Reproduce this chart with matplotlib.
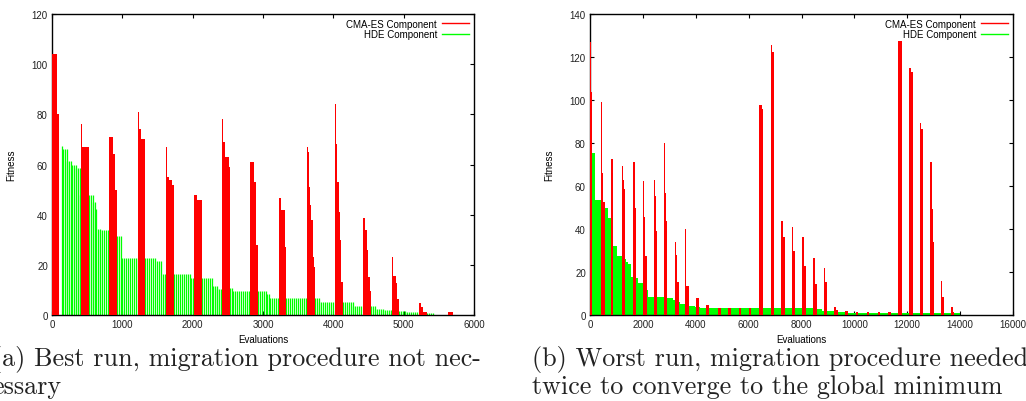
import numpy as np
import matplotlib.pyplot as plt
from matplotlib.lines import Line2D

# (start evaluation, end evaluation, fitness) steps
a_cma = [(0, 66, 104), (66, 104, 80),
         (412, 426, 76), (426, 526, 67),
         (815, 862, 71), (862, 900, 64), (900, 929, 50),
         (1218, 1237, 81), (1237, 1261, 74), (1261, 1327, 70),
         (1616, 1630, 67), (1630, 1668, 55), (1668, 1701, 54), (1701, 1730, 52),
         (2019, 2066, 48), (2066, 2128, 46),
         (2417, 2436, 78), (2436, 2455, 69), (2455, 2512, 63), (2512, 2531, 59),
         (2815, 2872, 61), (2872, 2896, 53), (2896, 2929, 28),
         (3223, 3256, 46.5), (3256, 3308, 42), (3308, 3332, 27),
         (3621, 3644, 67), (3644, 3658, 65), (3658, 3673, 51), (3673, 3687, 44),
         (3687, 3706, 38), (3706, 3720, 23), (3720, 3739, 19),
         (4023, 4038, 84), (4038, 4057, 68), (4057, 4076, 53), (4076, 4095, 41),
         (4095, 4113, 30), (4113, 4132, 13),
         (4426, 4450, 38.5), (4450, 4474, 34), (4474, 4497, 26), (4497, 4521, 15),
         (4521, 4535, 9.6),
         (4829, 4853, 23), (4853, 4891, 15.4), (4891, 4910, 12.6), (4910, 4933, 6.4),
         (5222, 5241, 4.8), (5241, 5270, 3.2), (5270, 5327, 1.3),
         (5635, 5706, 1.1)]

a_hde = [(137, 161, 67.5), (161, 218, 66), (218, 280, 61.4), (280, 341, 59.8),
         (341, 398, 58.6), (398, 412, 47.8),
         (526, 588, 47.8), (588, 621, 44.9), (621, 649, 42.1), (649, 682, 34.3),
         (682, 815, 33.8),
         (929, 990, 31.4), (990, 1218, 22.6),
         (1327, 1497, 22.6), (1497, 1573, 21.4), (1573, 1616, 16.3),
         (1730, 1971, 16.3), (1971, 2019, 14.6),
         (2128, 2284, 14.6), (2284, 2341, 11.6), (2341, 2417, 10.5),
         (2531, 2578, 10.6), (2578, 2815, 9.7),
         (2929, 3052, 9.7), (3052, 3099, 8.4), (3099, 3223, 6.6),
         (3332, 3621, 6.6),
         (3739, 3801, 6.6), (3801, 4023, 5.1),
         (4132, 4284, 5.1), (4284, 4426, 3.7),
         (4535, 4592, 3.7), (4592, 4711, 2.4), (4711, 4829, 2.0),
         (4933, 5019, 1.7), (5019, 5208, 1.1),
         (5327, 5421, 0.8)]

b_cma = [(0, 25, 127), (25, 45, 120), (45, 60, 103.5), (60, 80, 86.5),
         (404, 442, 99), (442, 505, 66), (505, 555, 52.4),
         (795, 858, 72.5),
         (1212, 1237, 69.4), (1237, 1275, 62.9), (1275, 1338, 58.6),
         (1615, 1691, 71), (1691, 1754, 50),
         (2007, 2032, 62.3), (2032, 2095, 45.7), (2095, 2171, 27.6),
         (2423, 2461, 62.6), (2461, 2499, 55.5), (2499, 2549, 38.9),
         (2802, 2840, 79.8), (2840, 2878, 56.7), (2878, 2928, 43.9),
         (3206, 3243, 34.1), (3243, 3306, 28.1), (3306, 3357, 15.2),
         (3584, 3647, 39.8), (3647, 3736, 13.6),
         (3999, 4114, 7.9),
         (4404, 4493, 4.7),
         (4846, 4947, 3.4), (5225, 5326, 3.4), (5629, 5730, 3.4), (6007, 6108, 3.4),
         (6411, 6487, 97.7), (6487, 6562, 95.8),
         (6840, 6890, 125.6), (6890, 6941, 122.1), (6941, 6966, 117.5),
         (7218, 7307, 43.6), (7307, 7370, 36.1),
         (7622, 7685, 41.1), (7685, 7748, 29.9),
         (8014, 8077, 36.1), (8077, 8152, 22.9),
         (8443, 8506, 26.4), (8506, 8582, 14.4),
         (8834, 8884, 21.7), (8884, 8947, 15.2),
         (9225, 9288, 3.9), (9288, 9364, 2.5),
         (9642, 9743, 2.0), (10058, 10147, 1.6), (10475, 10550, 1.2),
         (10878, 10967, 1.2), (11282, 11371, 1.2),
         (11661, 11787, 127.4),
         (12065, 12140, 114.7), (12140, 12203, 112.8),
         (12468, 12519, 89.3), (12519, 12595, 86.5),
         (12872, 12935, 71.3), (12935, 12973, 49.3), (12973, 13011, 33.8),
         (13276, 13314, 16), (13314, 13377, 8.5),
         (13655, 13730, 3.7), (13730, 13781, 1.2)]

b_hde = [(80, 177, 75.3), (177, 454, 53.5), (454, 581, 52.4), (581, 681, 49.8),
         (681, 833, 45.0), (833, 1035, 32.1), (1035, 1249, 27.4), (1249, 1376, 26.0),
         (1376, 1439, 24.5), (1439, 1565, 23.7), (1565, 1628, 17.5), (1628, 1817, 17.0),
         (1817, 2133, 14.9), (2133, 2196, 11.8), (2196, 2890, 8.5), (2890, 3142, 8.1),
         (3142, 3268, 7.1), (3268, 3395, 6.2), (3395, 3584, 5.0), (3584, 3710, 4.7),
         (3710, 3963, 4.3), (3963, 4152, 3.9), (4152, 4468, 3.4), (4468, 8506, 3.1),
         (8506, 8758, 2.8), (8758, 9263, 2.0), (9263, 9768, 1.2), (9768, 11661, 0.9),
         (11661, 14000, 0.8)]

a_caption = ["(a) Best run, migration procedure not nec-", "essary"]
b_caption = ["(b) Worst run, migration procedure needed",
             "twice to converge to the global minimum"]

RED = "#ff0000"
GREEN = "#00ff00"
sans = ["Liberation Sans", "DejaVu Sans"]


def blocks(ax, segs, color, z):
    x0 = np.array([s[0] for s in segs], float)
    x1 = np.array([s[1] for s in segs], float)
    y = np.array([s[2] for s in segs], float)
    ax.bar(x0, y, width=x1 - x0, align="edge", color=color, linewidth=0, zorder=z)


def impulses(ax, segs, color, gen, z):
    # one impulse per generation inside each constant-fitness step
    for x0, x1, y in segs:
        xs = np.arange(x0, x1, gen)
        ax.vlines(xs, 0, y, color=color, lw=0.9, zorder=z)


def style(ax, xmax, xstep, ymax):
    ax.set_xlim(0, xmax)
    ax.set_ylim(0, ymax)
    ax.set_xticks(np.arange(0, xmax + 1, xstep))
    ax.set_yticks(np.arange(0, ymax + 1, 20))
    ax.tick_params(direction="in", top=True, right=True, length=3, width=0.8,
                   labelsize=7, pad=3, labelcolor="#222222")
    for t in ax.get_xticklabels() + ax.get_yticklabels():
        t.set_family(sans)
    for sp in ax.spines.values():
        sp.set_linewidth(1.0)
    ax.set_xlabel("Evaluations", fontsize=7, family=sans)
    ax.set_ylabel("Fitness", fontsize=7, family=sans)
    ax.xaxis.set_label_coords(0.5, -0.062)
    ax.yaxis.set_label_coords(-0.085, 0.5)
    handles = [Line2D([], [], color=RED, lw=1), Line2D([], [], color=GREEN, lw=1)]
    ax.legend(handles, ["CMA-ES Component", "HDE Component"], loc="upper right",
              frameon=False, markerfirst=False, prop={"family": sans, "size": 7},
              handlelength=2.8, handletextpad=0.5, labelspacing=0.05,
              borderaxespad=0.3, borderpad=0.2)


fig = plt.figure(figsize=(10.26, 4.02), dpi=100)
ax1 = fig.add_axes([52 / 1026, 86 / 402, 422 / 1026, 301 / 402])
ax2 = fig.add_axes([590 / 1026, 86 / 402, 423 / 1026, 301 / 402])

impulses(ax1, a_hde, GREEN, 6000 / 422 * 2, 2)
blocks(ax1, a_cma, RED, 3)
style(ax1, 6000, 1000, 120)

blocks(ax2, b_hde, GREEN, 2)
blocks(ax2, b_cma, RED, 3)
style(ax2, 16000, 2000, 140)

cap = dict(family="cmr10", fontsize=18.8, color="#222222", va="baseline")
fig.text(-8 / 1026, 1 - 366 / 402, a_caption[0], **cap)
fig.text(-8 / 1026, 1 - 394 / 402, a_caption[1], **cap)
fig.text(532 / 1026, 1 - 366 / 402, b_caption[0], **cap)
fig.text(532 / 1026, 1 - 394 / 402, b_caption[1], **cap)

fig.savefig("out.png", dpi=100)
